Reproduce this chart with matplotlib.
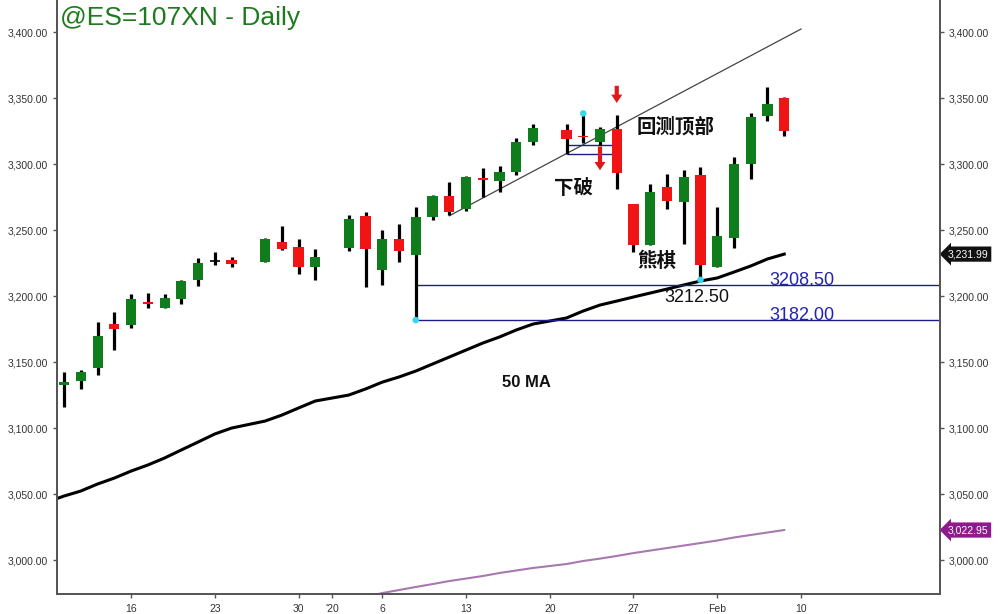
import numpy as np
import matplotlib
matplotlib.use("Agg")
import matplotlib.pyplot as plt
from matplotlib.ticker import FuncFormatter, FixedLocator
import matplotlib.transforms as mtransforms

plt.rcParams['font.family'] = ['Liberation Sans', 'Noto Sans CJK SC', 'DejaVu Sans']

# ---------------- data ----------------
dates = ['2019-12-10', '2019-12-11', '2019-12-12', '2019-12-13', '2019-12-16', '2019-12-17',
         '2019-12-18', '2019-12-19', '2019-12-20', '2019-12-23', '2019-12-24', '2019-12-26',
         '2019-12-27', '2019-12-30', '2019-12-31', '2020-01-02', '2020-01-03', '2020-01-06',
         '2020-01-07', '2020-01-08', '2020-01-09', '2020-01-10', '2020-01-13', '2020-01-14',
         '2020-01-15', '2020-01-16', '2020-01-17', '2020-01-21', '2020-01-22', '2020-01-23',
         '2020-01-24', '2020-01-27', '2020-01-28', '2020-01-29', '2020-01-30', '2020-01-31',
         '2020-02-03', '2020-02-04', '2020-02-05', '2020-02-06', '2020-02-07']
opens = [3133.0, 3135.5, 3146.0, 3178.8, 3178.3, 3196.0, 3191.2, 3198.0, 3212.0, 3226.5,
         3227.5, 3226.3, 3241.4, 3237.4, 3222.2, 3236.4, 3261.1, 3219.9, 3243.4, 3231.3,
         3260.3, 3276.0, 3266.0, 3289.0, 3287.6, 3294.0, 3317.0, 3326.0, 3321.5, 3317.1,
         3326.7, 3269.7, 3238.9, 3282.6, 3271.7, 3292.0, 3222.0, 3244.0, 3300.2, 3336.8,
         3350.0]
highs = [3142.4, 3144.2, 3180.3, 3187.9, 3201.5, 3202.8, 3202.0, 3212.4, 3228.8, 3233.6,
         3230.0, 3244.5, 3253.3, 3243.7, 3235.6, 3261.6, 3264.1, 3250.2, 3254.8, 3267.9,
         3277.0, 3286.8, 3291.0, 3297.0, 3299.0, 3320.0, 3330.5, 3330.3, 3338.6, 3328.5,
         3337.4, 3269.7, 3284.8, 3292.7, 3295.7, 3297.7, 3267.4, 3305.3, 3338.6, 3358.3,
         3350.8]
lows = [3115.9, 3129.5, 3140.4, 3159.3, 3176.3, 3191.4, 3191.0, 3194.0, 3207.8, 3223.5,
        3222.2, 3226.0, 3235.0, 3216.7, 3212.1, 3234.5, 3206.8, 3208.6, 3226.2, 3182.0,
        3258.0, 3261.6, 3265.0, 3275.5, 3278.8, 3292.0, 3314.5, 3307.8, 3316.0, 3314.6,
        3281.0, 3233.3, 3238.9, 3265.9, 3240.0, 3212.5, 3222.0, 3236.4, 3288.9, 3333.0,
        3321.4]
closes = [3135.3, 3142.4, 3170.2, 3175.0, 3197.7, 3194.5, 3198.5, 3211.6, 3225.5, 3226.5,
          3224.8, 3243.7, 3235.6, 3222.2, 3230.0, 3258.8, 3235.6, 3243.4, 3234.5, 3260.3,
          3276.0, 3264.1, 3290.2, 3288.2, 3294.0, 3317.1, 3327.2, 3319.2, 3320.5, 3326.7,
          3293.2, 3238.9, 3278.8, 3272.2, 3290.2, 3223.7, 3246.0, 3300.0, 3335.6, 3345.5,
          3325.5]

ma50_dates = ['2019-12-09'] + dates
ma50 = [3044.2, 3048.7, 3052.5, 3057.8, 3062.3, 3067.6, 3072.2, 3077.5, 3083.6, 3089.6,
        3095.7, 3100.2, 3105.5, 3110.0, 3115.4, 3120.7, 3125.2, 3129.8, 3135.0, 3138.9,
        3143.4, 3148.7, 3154.0, 3159.3, 3164.6, 3169.2, 3174.5, 3179.0, 3183.6, 3188.9,
        3193.4, 3196.4, 3199.5, 3202.5, 3205.5, 3208.6, 3211.6, 3213.9, 3218.4, 3223.0,
        3228.3, 3231.99]

ma200_dates = dates[16:]
ma200 = [2972.2, 2975.2, 2977.5, 2979.8, 2982.0, 2984.3, 2986.2, 2988.1, 2990.4, 2992.3,
         2994.2, 2997.2, 2999.5, 3001.3, 3003.3, 3005.5, 3007.4, 3009.3, 3011.2, 3013.1,
         3015.0, 3017.3, 3019.2, 3021.1, 3022.95]

xtick_dates = ['2019-12-16', '2019-12-23', '2019-12-30', '2020-01-01', '2020-01-06',
               '2020-01-13', '2020-01-20', '2020-01-27', '2020-02-03', '2020-02-10']
xtick_labels = ['16', '23', '30', "'20", '6', '13', '20', '27', 'Feb', '10']

levels = [3208.50, 3182.00]
level_start = '2020-01-08'
trend_dates = ['2020-01-10', '2020-02-10']
trend_vals = [3261.0, 3402.5]
box_dates = ['2020-01-21', '2020-01-24']
box_levels = [3314.6, 3307.8]
dot_dates = ['2020-01-22', '2020-01-08', '2020-01-31']
dot_vals = [3338.6, 3182.0, 3212.5]

base = '2019-12-10'
def pos(d):
    return np.busday_count(base, np.array(d, dtype='datetime64[D]'))

# ---------------- figure ----------------
fig = plt.figure(figsize=(10, 6.14), dpi=100)
ax = fig.add_axes([0.057, 0.0326, 0.883, 0.9674])

GREEN = '#0f7d1c'
RED = '#f01414'
x = pos(dates)
o = np.array(opens); c = np.array(closes); h = np.array(highs); l = np.array(lows)

ax.vlines(x, l, h, color='black', lw=2.3, zorder=3)
cols = np.where(c > o, GREEN, np.where(c < o, RED, 'black'))
body_bot = np.minimum(o, c)
body_h = np.maximum(np.abs(c - o), 1.3)
for xi, bb, bh, col, oo, cc in zip(x, body_bot, body_h, cols, o, c):
    if abs(cc - oo) < 0.01:
        ax.hlines(oo, xi - 0.3, xi + 0.3, color='black', lw=1.2, zorder=4)
    else:
        ax.bar(xi, bh, bottom=bb, width=0.6, color=col, edgecolor='none', zorder=4)

# moving averages
ax.plot(pos(ma50_dates), ma50, color='black', lw=2.2, zorder=2)
ax.plot(pos(ma200_dates), ma200, color='#a878b0', lw=1.5, zorder=2)

# trend line
ax.plot(pos(trend_dates), trend_vals, color='#444444', lw=0.9, zorder=2)

# horizontal levels
xs = pos(level_start)
NAVY = '#1c1c8a'
for lv in levels:
    ax.hlines(lv, xs, 60, color=NAVY, lw=1.0, zorder=2)
bx = pos(box_dates)
for lv in box_levels:
    ax.hlines(lv, bx[0], bx[1], color=NAVY, lw=1.0, zorder=2)

# cyan dots
ax.scatter(pos(dot_dates), dot_vals, s=22, color='#35d8ec', zorder=6, edgecolor='none')

# red arrows
arrow_kw = dict(arrowstyle='simple,head_length=0.6,head_width=0.8,tail_width=0.3',
                fc='#e01818', ec='none', lw=0, shrinkA=0, shrinkB=0, mutation_scale=10)
ax.annotate('', xy=(pos('2020-01-24'), 3346.5), xytext=(pos('2020-01-24'), 3359.5),
            arrowprops=arrow_kw, zorder=7)
ax.annotate('', xy=(pos('2020-01-23'), 3295.5), xytext=(pos('2020-01-23'), 3313.5),
            arrowprops=arrow_kw, zorder=7)

# axis limits
ax.set_xlim(-0.42, 52.3)
ax.set_ylim(2974.5, 3424.5)

fmt = FuncFormatter(lambda v, p: f"{v:,.2f}")
yt = np.arange(3000, 3401, 50)
ax.yaxis.set_major_locator(FixedLocator(yt))
ax.yaxis.set_major_formatter(fmt)
ax.tick_params(axis='y', labelsize=7.5, labelcolor='#333333', color='#555555', length=3, width=1)
ax2 = ax.twinx()
ax2.set_ylim(ax.get_ylim())
ax2.yaxis.set_major_locator(FixedLocator(yt))
ax2.yaxis.set_major_formatter(fmt)
ax2.tick_params(axis='y', labelsize=7.5, labelcolor='#333333', color='#555555', length=3, width=1)

ax.xaxis.set_major_locator(FixedLocator(pos(xtick_dates)))
ax.set_xticklabels(xtick_labels)
ax.tick_params(axis='x', labelsize=7.5, labelcolor='#333333', color='#555555', length=3, width=1, pad=4)

for a in (ax, ax2):
    a.spines['top'].set_visible(False)
    for s in ('left', 'right', 'bottom'):
        a.spines[s].set_color('#555555')
        a.spines[s].set_linewidth(1.3)

# right value tags
trans = mtransforms.blended_transform_factory(ax.transAxes, ax.transData)
ax.text(1.009, ma50[-1], f"{ma50[-1]:,.2f}", transform=trans, fontsize=7.5, color='white',
        va='center', ha='left', zorder=10, clip_on=False,
        bbox=dict(boxstyle='larrow,pad=0.25', fc='#111111', ec='none'))
ax.text(1.009, ma200[-1], f"{ma200[-1]:,.2f}", transform=trans, fontsize=7.5, color='white',
        va='center', ha='left', zorder=10, clip_on=False,
        bbox=dict(boxstyle='larrow,pad=0.25', fc='#8e1a8e', ec='none'))

# annotations
cjk = ['Noto Sans CJK SC', 'DejaVu Sans']
ax.text(36.5, 3328.5, '回测顶部', fontsize=14, fontweight='bold', family=cjk,
        ha='center', va='center', color='#111111', zorder=8)
ax.text(30.4, 3282.0, '下破', fontsize=14, fontweight='bold', family=cjk,
        ha='center', va='center', color='#111111', zorder=8)
ax.text(35.4, 3226.5, '熊棋', fontsize=14, fontweight='bold', family=cjk,
        ha='center', va='center', color='#111111', zorder=8)
ax.text(37.8, 3199.0, '3212.50', fontsize=13, ha='center', va='center',
        color='#111111', zorder=8)
ax.text(44.05, 3212.0, '3208.50', fontsize=13, ha='center', va='center',
        color='#2323b0', zorder=8)
ax.text(44.05, 3185.5, '3182.00', fontsize=13, ha='center', va='center',
        color='#2323b0', zorder=8)
ax.text(27.6, 3134.5, '50 MA', fontsize=12, fontweight='bold',
        ha='center', va='center', color='#111111', zorder=8)

fig.text(0.06, 1 - 18 / 614, '@ES=107XN - Daily', fontsize=19, color='#1f7a1f',
         ha='left', va='center')

fig.savefig('out.png', dpi=100)
